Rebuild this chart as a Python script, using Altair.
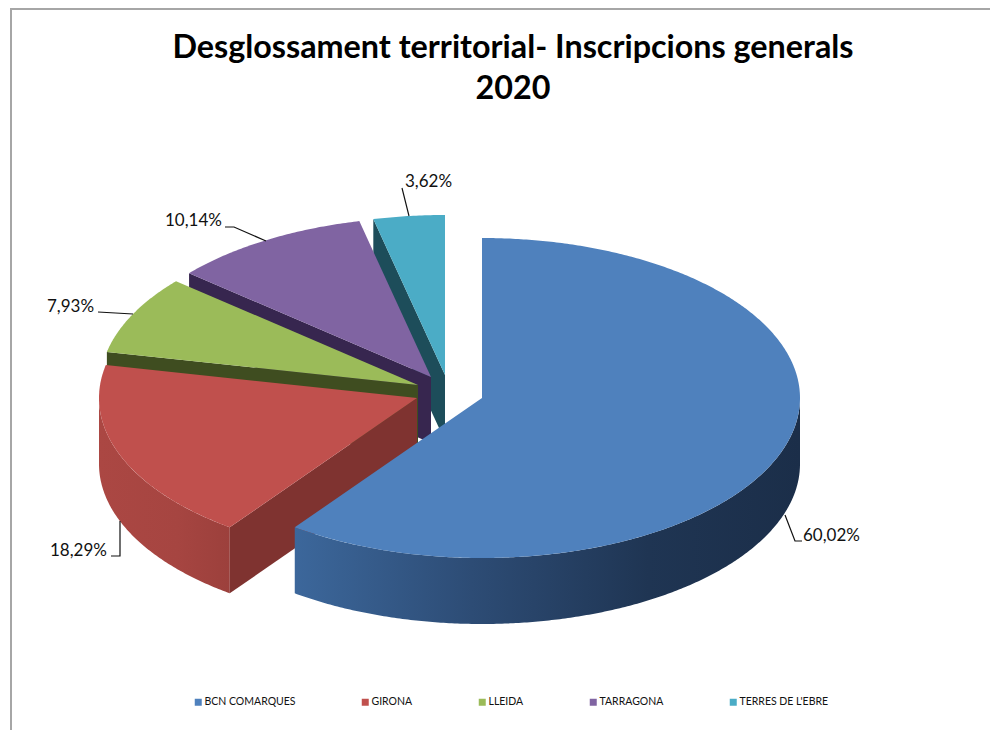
import numpy as np
import pandas as pd
import altair as alt

# ---- data ----
names = ["BCN COMARQUES", "GIRONA", "LLEIDA", "TARRAGONA", "TERRES DE L'EBRE"]
shares = [60.02, 18.29, 7.93, 10.14, 3.62]
top_colors = ["#4f81bd", "#c0504d", "#9bbb59", "#8064a2", "#4bacc6"]
cut_colors = ["#2c4d75", "#7f3330", "#3f4d20", "#37264f", "#1d4d5a"]
wall_left = ["#3c679b", "#ab4743", "#5f7530", "#4d3b62", "#2d6b7c"]
wall_right = ["#1b2e49", "#9c403c", "#5f7530", "#4d3b62", "#2d6b7c"]

# slice apexes after the explosion, and the pie's proportions, in picture pixels
apex_x = [482, 417, 418, 431, 445]
apex_y = [398, 398, 385, 377, 375]
RX, RY, DEPTH = 318, 160, 66

# leader lines (picture pixels) and label anchors
leaders = [
    [(785, 515), (795, 541), (802, 541)],
    [(120, 521), (120, 556), (111, 556)],
    [(133, 314), (98, 312)],
    [(266, 241), (234, 227), (225, 227)],
    [(409, 216), (402, 188)],
]
label_x = [803, 50, 47, 165, 405]
label_y = [536, 551, 307, 221, 182]

W, H = 982, 722
xs = alt.Scale(domain=[8, 8 + W], range=[0, W], nice=False, zero=False)
ys = alt.Scale(domain=[8, 8 + H], range=[0, H], nice=False, zero=False)

edges = np.concatenate([[0], np.cumsum(shares)]) * 3.6
edges[-1] = 360


def pt(i, deg):
    a = np.radians(deg)
    return apex_x[i] + RX * np.sin(a), apex_y[i] - RY * np.cos(a)


def arc(i, a0, a1, dy=0):
    n = max(2, int(abs(a1 - a0)) * 2)
    out = []
    for d in np.linspace(a0, a1, n):
        px, py = pt(i, d)
        out.append((px, py + dy))
    return out


def grad(c0, c1, *mid):
    stops = [alt.GradientStop(color=c0, offset=0)]
    for c, o in mid:
        stops.append(alt.GradientStop(color=c, offset=o))
    stops.append(alt.GradientStop(color=c1, offset=1))
    return alt.LinearGradient(gradient="linear", stops=stops, x1=0, x2=1, y1=0, y2=0)


def poly(points, fill):
    pts = list(points) + [points[0]]
    df = pd.DataFrame({"x": [p[0] for p in pts], "y": [p[1] for p in pts], "o": range(len(pts))})
    return (
        alt.Chart(df)
        .mark_line(fill=fill, strokeOpacity=0, strokeWidth=0, interpolate="linear", clip=False)
        .encode(
            x=alt.X("x:Q", scale=xs, axis=None),
            y=alt.Y("y:Q", scale=ys, axis=None),
            order=alt.Order("o:Q"),
        )
    )


layers = []
# back to front: cyan, purple, green, red, blue
for i in [4, 3, 2, 1, 0]:
    a0, a1 = edges[i], edges[i + 1]
    A = (apex_x[i], apex_y[i])
    start = pt(i, a0)
    # visible wall of the rim (lower half of the ellipse only)
    v0, v1 = max(a0, 90), min(a1, 270)
    if v1 > v0:
        rim = arc(i, v0, v1) + arc(i, v1, v0, DEPTH)
        if i == 0:
            fill = grad(wall_left[0], wall_right[0], ("#2d4c75", 0.35), ("#1f3553", 0.7))
        else:
            fill = grad(wall_left[i], wall_right[i], ("#a64541", 0.6))
        layers.append(poly(rim, fill))
    # visible cut face: the edge at the slice's first angle, pushed down by the depth
    if i != 0:
        cut = [A, start, (start[0], start[1] + DEPTH), (A[0], A[1] + DEPTH)]
        layers.append(poly(cut, cut_colors[i]))
    layers.append(poly([A] + arc(i, a0, a1), top_colors[i]))

# leaders
for k, line in enumerate(leaders):
    df = pd.DataFrame({"x": [p[0] for p in line], "y": [p[1] for p in line], "o": range(len(line))})
    layers.append(
        alt.Chart(df)
        .mark_line(color="#111111", strokeWidth=1.2)
        .encode(x=alt.X("x:Q", scale=xs, axis=None), y=alt.Y("y:Q", scale=ys, axis=None), order="o:Q")
    )

labels = pd.DataFrame(
    {
        "x": label_x,
        "y": label_y,
        "t": [f"{v:.2f}%".replace(".", ",") for v in shares],
    }
)
layers.append(
    alt.Chart(labels)
    .mark_text(align="left", baseline="middle", font="Lato", fontSize=17, color="#111111")
    .encode(x=alt.X("x:Q", scale=xs, axis=None), y=alt.Y("y:Q", scale=ys, axis=None), text="t:N")
)

# frame
layers.append(
    alt.Chart(pd.DataFrame({"a": [1]}))
    .mark_rule(color="#a6a6a6", strokeWidth=2)
    .encode(x=alt.value(3), y=alt.value(0), y2=alt.value(H))
)
layers.append(
    alt.Chart(pd.DataFrame({"a": [1]}))
    .mark_rule(color="#a6a6a6", strokeWidth=2)
    .encode(x=alt.value(3), x2=alt.value(W), y=alt.value(1))
)

# legend
legend_df = pd.DataFrame({"n": names, "x": apex_x, "y": apex_y})
layers.append(
    alt.Chart(legend_df)
    .mark_point(filled=True, shape="square", size=0, opacity=1)
    .encode(
        x=alt.X("x:Q", scale=xs, axis=None),
        y=alt.Y("y:Q", scale=ys, axis=None),
        color=alt.Color(
            "n:N",
            scale=alt.Scale(domain=names, range=top_colors),
            sort=names,
            legend=alt.Legend(
                orient="none",
                legendX=185,
                legendY=689,
                direction="horizontal",
                columns=5,
                gridAlign="none",
                columnPadding=64,
                title=None,
                symbolType="square",
                symbolSize=49,
                symbolStrokeWidth=0,
                labelFont="Lato",
                labelFontSize=10.5,
                labelColor="#111111",
                labelOffset=1,
            ),
        ),
    )
)

chart = (
    alt.layer(*layers)
    .properties(
        width=W,
        height=H,
        padding=0,
        autosize=alt.AutoSizeParams(type="none"),
        title=alt.TitleParams(
            text=["Desglossament territorial- Inscripcions generals", "2020"],
            font="Lato",
            fontSize=32.3,
            fontWeight="bold",
            color="#000000",
            anchor="middle",
            frame="group",
            lineHeight=41,
            dx=14,
            dy=98,
            offset=0,
        ),
    )
    .configure_view(stroke=None)
)
chart.save("out.html", embed_options={"renderer": "svg", "actions": False})
